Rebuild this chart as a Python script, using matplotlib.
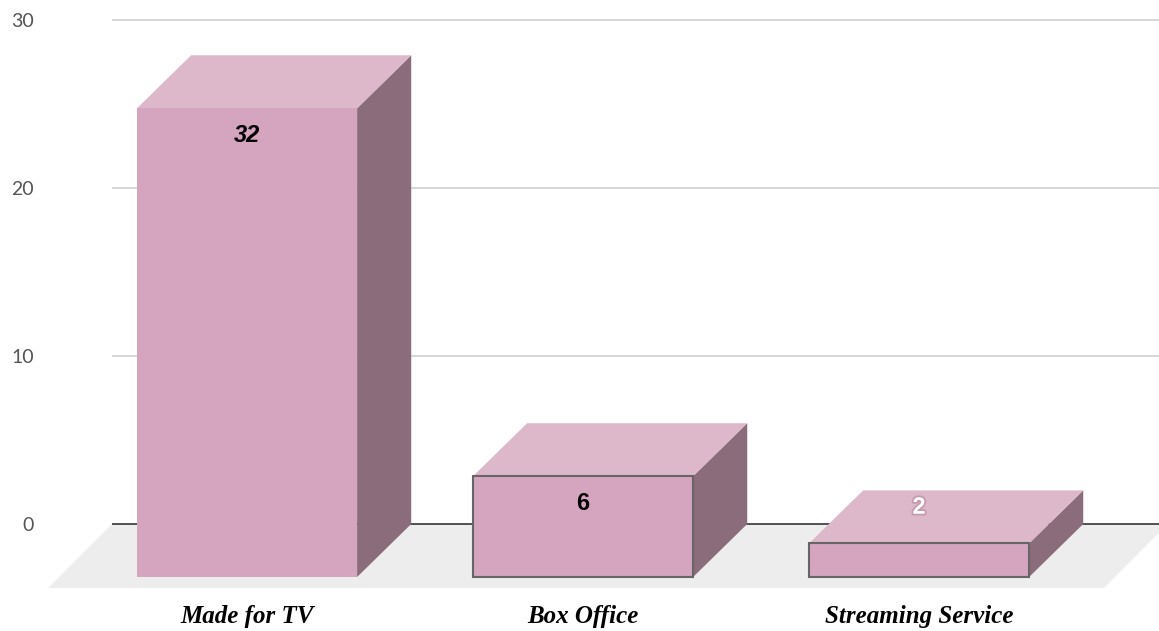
"""
Pseudo-3D bar chart: where the titles were released
"""
import numpy as np
import matplotlib.pyplot as plt
import matplotlib.patheffects as pe

categories = ['Made for TV', 'Box Office', 'Streaming Service']
values = np.array([32, 6, 2])
y_ticks = [0, 10, 20, 30]

# the tallest bar is cut off at the top of the plot area
y_cap = 27.9

front_color = '#d5a4bf'
top_color = '#ddb7ca'
side_color = '#8a6c7a'
floor_color = '#ededed'
edge_colors = ['none', '#666666', '#666666']
label_colors = ['black', 'black', 'white']
label_styles = ['italic', 'normal', 'normal']

# depth of the boxes (x in category units, y in value units)
dx, dy = 0.161, 3.155
floor_dx, floor_dy = 0.19, 3.81
bar_w = 0.655

fig = plt.figure(figsize=(11.59, 6.31), dpi=100)
ax = fig.add_axes([112 / 1159, 0, 1 - 112 / 1159, 1])
ax.set_xlim(-0.402, 2.714)
ax.set_ylim(-6.369, 31.19)

# floor
fx0, fx1 = -0.402, 2.74
ax.fill([fx0, fx1, fx1 - floor_dx, fx0 - floor_dx], [0, 0, -floor_dy, -floor_dy],
        color=floor_color, zorder=1, clip_on=False, lw=0)

# grid lines and zero line
for t in y_ticks[1:]:
    ax.axhline(t, color='#d4d4d4', lw=1.3, zorder=0.5)
ax.axhline(0, color='#444444', lw=1.3, zorder=1.5)

x = np.arange(len(categories))
h = np.minimum(values, y_cap)

for i in range(len(categories)):
    x0 = x[i] - bar_w / 2
    x1 = x[i] + bar_w / 2
    top = h[i] - dy
    # side face
    ax.fill([x1, x1 + dx, x1 + dx, x1], [-dy, 0, h[i], top],
            color=side_color, lw=0, zorder=3)
    # top face
    ax.fill([x0, x1, x1 + dx, x0 + dx], [top, top, h[i], h[i]],
            color=top_color, lw=0, zorder=3)

# front faces
ax.bar(x, h, bottom=-dy, width=bar_w, color=front_color,
       edgecolor=edge_colors, linewidth=1.5, zorder=4)

# value labels
label_y = np.maximum(h - dy - 1.6, 1.0)
for i, v in enumerate(values):
    t = ax.text(x[i], label_y[i], str(v), ha='center', va='center',
                fontsize=17, fontweight='bold', fontstyle=label_styles[i],
                family='Liberation Sans', color=label_colors[i], zorder=6)
    if label_colors[i] == 'white':
        t.set_path_effects([pe.withStroke(linewidth=2.5, foreground='#c49aae')])

# category labels
for i, c in enumerate(categories):
    ax.text(x[i], -5.48, c, ha='center', va='center', fontsize=18,
            fontweight='bold', fontstyle='italic', family='Liberation Serif',
            color='black', clip_on=False)

# y tick labels
ax.set_yticks(y_ticks)
ax.set_yticklabels([str(t) for t in y_ticks], family='Lato',
                   fontsize=14, color='#555555')
ax.tick_params(axis='y', length=0, pad=56)
ax.set_xticks([])
for s in ax.spines.values():
    s.set_visible(False)
ax.patch.set_alpha(0)

fig.savefig('out.png', dpi=100, facecolor='white')
